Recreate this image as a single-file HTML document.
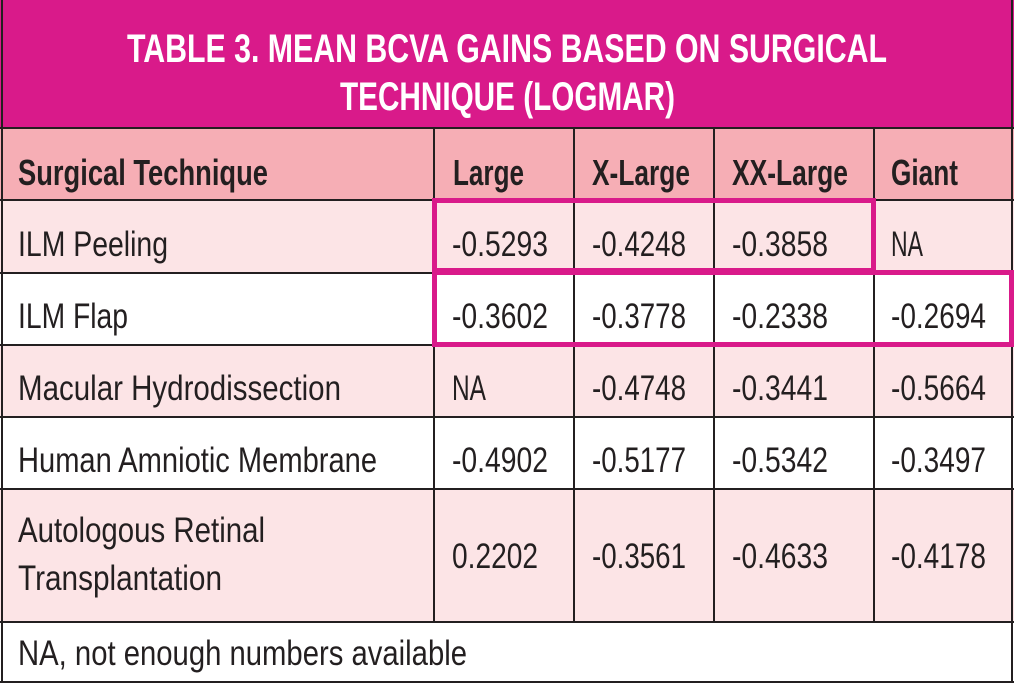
<!DOCTYPE html>
<html><head><style>body{margin:0;background:#fff}svg{display:block}</style></head><body>
<svg width="1014" height="683" xmlns="http://www.w3.org/2000/svg" font-family="Liberation Sans, sans-serif">
<rect x="0" y="0" width="1014" height="128" fill="#d91a8a"/>
<rect x="0" y="128" width="1014" height="72" fill="#f6aeb5"/>
<rect x="0" y="200" width="1014" height="73" fill="#fce4e6"/>
<rect x="0" y="273" width="1014" height="72" fill="#fff"/>
<rect x="0" y="345" width="1014" height="72" fill="#fce4e6"/>
<rect x="0" y="417" width="1014" height="72" fill="#fff"/>
<rect x="0" y="489" width="1014" height="133" fill="#fce4e6"/>
<rect x="0" y="622" width="1014" height="61" fill="#fff"/>
<g stroke="#231f20" stroke-width="2" fill="none">
<line x1="0" y1="128" x2="1014" y2="128"/>
<line x1="0" y1="200" x2="1014" y2="200"/>
<line x1="0" y1="273" x2="1014" y2="273"/>
<line x1="0" y1="345" x2="1014" y2="345"/>
<line x1="0" y1="417" x2="1014" y2="417"/>
<line x1="0" y1="489" x2="1014" y2="489"/>
<line x1="0" y1="622" x2="1014" y2="622"/>
<line x1="0" y1="682" x2="1014" y2="682"/>
<line x1="434" y1="128" x2="434" y2="622"/>
<line x1="574" y1="128" x2="574" y2="622"/>
<line x1="714" y1="128" x2="714" y2="622"/>
<line x1="874" y1="128" x2="874" y2="622"/>
<line x1="2" y1="0" x2="2" y2="683"/>
<line x1="1012" y1="0" x2="1012" y2="683"/>
</g>
<g fill="#fff" font-weight="bold" font-size="40">
<text x="127" y="62" textLength="760" lengthAdjust="spacingAndGlyphs">TABLE 3. MEAN BCVA GAINS BASED ON SURGICAL</text>
<text x="340" y="110" textLength="335" lengthAdjust="spacingAndGlyphs">TECHNIQUE (LOGMAR)</text>
</g>
<g fill="#231f20" font-weight="bold" font-size="36">
<text x="18" y="185" textLength="250" lengthAdjust="spacingAndGlyphs">Surgical Technique</text>
<text x="453" y="185" textLength="71" lengthAdjust="spacingAndGlyphs">Large</text>
<text x="592" y="185" textLength="98" lengthAdjust="spacingAndGlyphs">X-Large</text>
<text x="732" y="185" textLength="116" lengthAdjust="spacingAndGlyphs">XX-Large</text>
<text x="891" y="185" textLength="67" lengthAdjust="spacingAndGlyphs">Giant</text>
</g>
<g fill="#231f20" font-size="35" lengthAdjust="spacingAndGlyphs">
<text x="18" y="256" textLength="150" lengthAdjust="spacingAndGlyphs">ILM Peeling</text>
<text x="452" y="256" textLength="96" lengthAdjust="spacingAndGlyphs">-0.5293</text>
<text x="592" y="256" textLength="94" lengthAdjust="spacingAndGlyphs">-0.4248</text>
<text x="732" y="256" textLength="96" lengthAdjust="spacingAndGlyphs">-0.3858</text>
<text x="891" y="256" textLength="32" lengthAdjust="spacingAndGlyphs">NA</text>
<text x="18" y="328" textLength="110" lengthAdjust="spacingAndGlyphs">ILM Flap</text>
<text x="452" y="328" textLength="96" lengthAdjust="spacingAndGlyphs">-0.3602</text>
<text x="592" y="328" textLength="94" lengthAdjust="spacingAndGlyphs">-0.3778</text>
<text x="732" y="328" textLength="96" lengthAdjust="spacingAndGlyphs">-0.2338</text>
<text x="891" y="328" textLength="95" lengthAdjust="spacingAndGlyphs">-0.2694</text>
<text x="18" y="400" textLength="323" lengthAdjust="spacingAndGlyphs">Macular Hydrodissection</text>
<text x="452" y="400" textLength="34" lengthAdjust="spacingAndGlyphs">NA</text>
<text x="592" y="400" textLength="94" lengthAdjust="spacingAndGlyphs">-0.4748</text>
<text x="732" y="400" textLength="96" lengthAdjust="spacingAndGlyphs">-0.3441</text>
<text x="891" y="400" textLength="95" lengthAdjust="spacingAndGlyphs">-0.5664</text>
<text x="18" y="472" textLength="359" lengthAdjust="spacingAndGlyphs">Human Amniotic Membrane</text>
<text x="452" y="472" textLength="96" lengthAdjust="spacingAndGlyphs">-0.4902</text>
<text x="592" y="472" textLength="94" lengthAdjust="spacingAndGlyphs">-0.5177</text>
<text x="732" y="472" textLength="96" lengthAdjust="spacingAndGlyphs">-0.5342</text>
<text x="891" y="472" textLength="95" lengthAdjust="spacingAndGlyphs">-0.3497</text>
<text x="18" y="542" textLength="247" lengthAdjust="spacingAndGlyphs">Autologous Retinal</text>
<text x="18" y="590" textLength="204" lengthAdjust="spacingAndGlyphs">Transplantation</text>
<text x="452" y="568" textLength="86" lengthAdjust="spacingAndGlyphs">0.2202</text>
<text x="592" y="568" textLength="94" lengthAdjust="spacingAndGlyphs">-0.3561</text>
<text x="732" y="568" textLength="96" lengthAdjust="spacingAndGlyphs">-0.4633</text>
<text x="891" y="568" textLength="95" lengthAdjust="spacingAndGlyphs">-0.4178</text>
<text x="18" y="665" textLength="449" lengthAdjust="spacingAndGlyphs">NA, not enough numbers available</text>
</g>
<g stroke="#d91a8a" stroke-width="5" fill="none">
<rect x="434.5" y="200.5" width="439" height="70"/>
<rect x="434.5" y="272.5" width="577" height="72"/>
</g>
</svg>
</body></html>
